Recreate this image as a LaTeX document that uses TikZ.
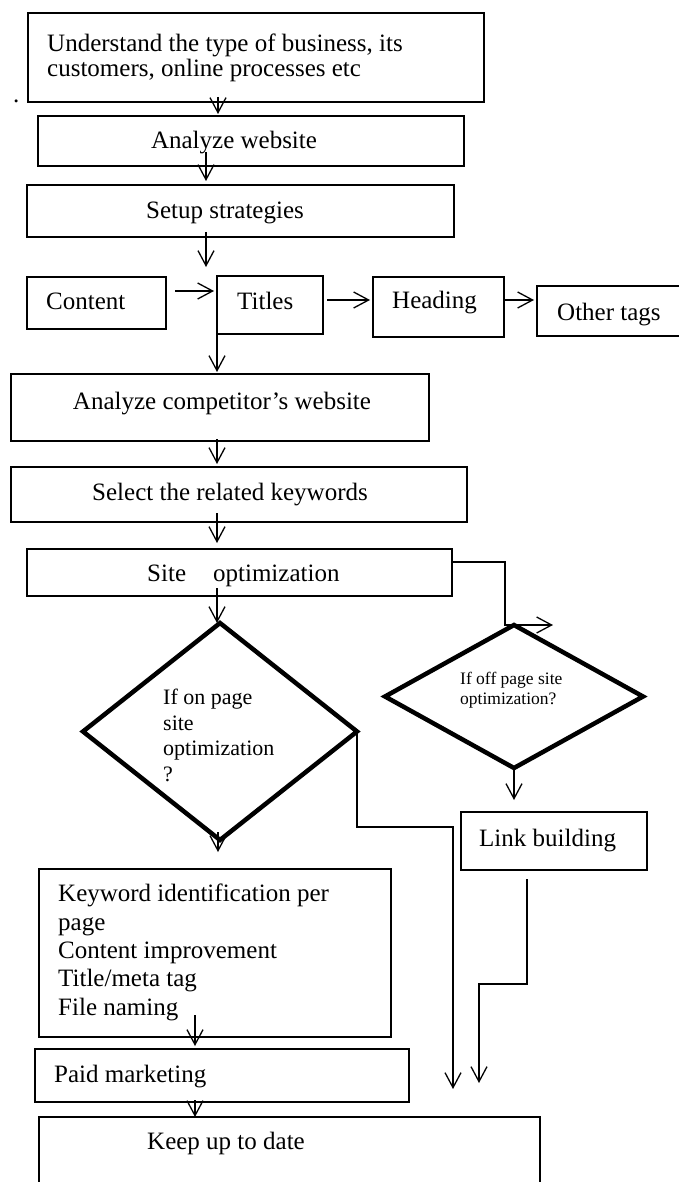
\documentclass[tikz,border=0pt]{standalone}
\usepackage{fontspec}
\setmainfont{Liberation Serif}
\usetikzlibrary{arrows.meta,shapes.geometric}
\begin{document}
\begin{tikzpicture}[x=1pt,y=-1pt,
  box/.style={draw, line width=1.6pt, rectangle, inner sep=0pt, outer sep=0pt, anchor=north west},
  dec/.style={draw, line width=4.5pt, diamond, inner sep=0pt, outer sep=0pt},
  txt/.style={inner sep=0pt, anchor=base west, align=left, font=\fontsize{25}{25}\selectfont},
  ctxt/.style={txt, anchor=base},
  wire/.style={line width=1.3pt},
  arr/.style={wire, -{Straight Barb[length=15pt,width=16pt]}}]
\useasboundingbox (0,0) rectangle (678,1182);

% process boxes
\node[box, minimum width=456pt, minimum height=89pt]  (b1)      at (28,13)   {};
\node[box, minimum width=426pt, minimum height=50pt]  (b2)      at (38,116)  {};
\node[box, minimum width=427pt, minimum height=52pt]  (b3)      at (27,185)  {};
\node[box, minimum width=139pt, minimum height=52pt]  (content) at (27,277)  {};
\node[box, minimum width=106pt, minimum height=58pt]  (titles)  at (217,276) {};
\node[box, minimum width=131pt, minimum height=60pt]  (heading) at (373,277) {};
\node[box, minimum width=150pt, minimum height=50pt]  (other)   at (537,286) {};
\node[box, minimum width=418pt, minimum height=67pt]  (comp)    at (11,374)  {};
\node[box, minimum width=456pt, minimum height=55pt]  (select)  at (11,467)  {};
\node[box, minimum width=425pt, minimum height=47pt]  (site)    at (27,549)  {};
\node[box, minimum width=186pt, minimum height=58pt]  (link)    at (461,812) {};
\node[box, minimum width=352pt, minimum height=168pt] (kw)      at (39,869)  {};
\node[box, minimum width=374pt, minimum height=53pt]  (paid)    at (35,1049) {};
\node[box, minimum width=501pt, minimum height=100pt] (keep)    at (39,1117) {};

% decisions
\node[dec, minimum width=274pt, minimum height=217pt] (d1) at (220,731.5) {};
\node[dec, minimum width=258pt, minimum height=143pt] (d2) at (514,696.5) {};

% labels (multi-line labels are placed by the baseline of their last line)
\node[txt] (dot) at (13,103) {.};
\node[txt] (t1) at (47,77) {Understand the type of business, its\\customers, online processes etc};
\node[ctxt] (t2) at (234,149) {Analyze website};
\node[ctxt] (t3) at (225,219) {Setup strategies};
\node[txt] (tc) at (46,309) {Content};
\node[txt] (tt) at (237,309) {Titles};
\node[txt] (th) at (392,308) {Heading};
\node[txt] (to) at (557,320) {Other tags};
\node[ctxt] (tcomp) at (222,409) {Analyze competitor’s website};
\node[ctxt] (tsel) at (230,500) {Select the related keywords};
\node[txt] (tsite) at (147,581) {Site\hspace{27pt}optimization};
\node[txt, font=\fontsize{22}{25.5}\selectfont] (td1) at (163,781) {If on page\\site\\optimization\\?};
\node[txt, font=\fontsize{17.5}{20}\selectfont] (td2) at (460,704) {If off page site\\optimization?};
\node[txt] (tlink) at (479,846) {Link building};
\node[txt, font=\fontsize{25}{28.3}\selectfont] (tkw) at (58,1015) {Keyword identification per\\page\\Content improvement\\Title/meta tag\\File naming};
\node[txt] (tpaid) at (54,1082) {Paid marketing};
\node[ctxt] (tkeep) at (226,1149) {Keep up to date};

% connector anchors
\coordinate (s1) at (218,97);
\coordinate (s2) at (206,152);
\coordinate (s3) at (206,232);
\coordinate (e3) at (206,267);
\coordinate (s4) at (175,291);
\coordinate (s5) at (327,300);
\coordinate (s6) at (504,300);
\coordinate (s8) at (217,439);
\coordinate (s9) at (217,513);
\coordinate (s10) at (217,588);
\coordinate (k11) at (505,562);
\coordinate (e11) at (553,625);
\coordinate (k13) at (453,827);
\coordinate (e13) at (453,1089);
\coordinate (k14) at (527,984);
\coordinate (e14) at (479,1083);
\coordinate (s15) at (218,832);
\coordinate (e15) at (218,852);
\coordinate (s16) at (195,1015);
\coordinate (s17) at (195,1100);

% connectors
\draw[arr, shorten >=2pt] (s1) -- (s1 |- b2.north);
\draw[arr, shorten >=4pt] (s2) -- (s2 |- b3.north);
\draw[arr] (s3) -- (e3);
\draw[arr, shorten >=3pt] (s4) -- (s4 -| titles.west);
\draw[arr, shorten >=3pt] (s5) -- (s5 -| heading.west);
\draw[arr, shorten >=3pt] (s6) -- (s6 -| other.west);
\draw[arr, shorten >=2pt] (titles.south west) -- (titles.south west |- comp.north);
\draw[arr, shorten >=3pt] (s8) -- (s8 |- select.north);
\draw[arr, shorten >=6pt] (s9) -- (s9 |- site.north);
\draw[arr] (s10) -- (s10 |- d1.north);
\draw[arr] (k11 -| site.east) -- (k11) -- (k11 |- e11) -- (e11);
\draw[arr, shorten >=12pt] (d2.south) -- (d2.south |- link.north);
\draw[arr] (d1.east) |- (k13) -- (e13);
\draw[arr, shorten <=9pt] (link.south -| k14) -- (k14) -| (e14);
\draw[arr] (s15) -- (e15);
\draw[arr, shorten >=3pt] (s16) -- (s16 |- paid.north);
\draw[arr] (s17) -- (s17 |- keep.north);
\end{tikzpicture}
\end{document}
